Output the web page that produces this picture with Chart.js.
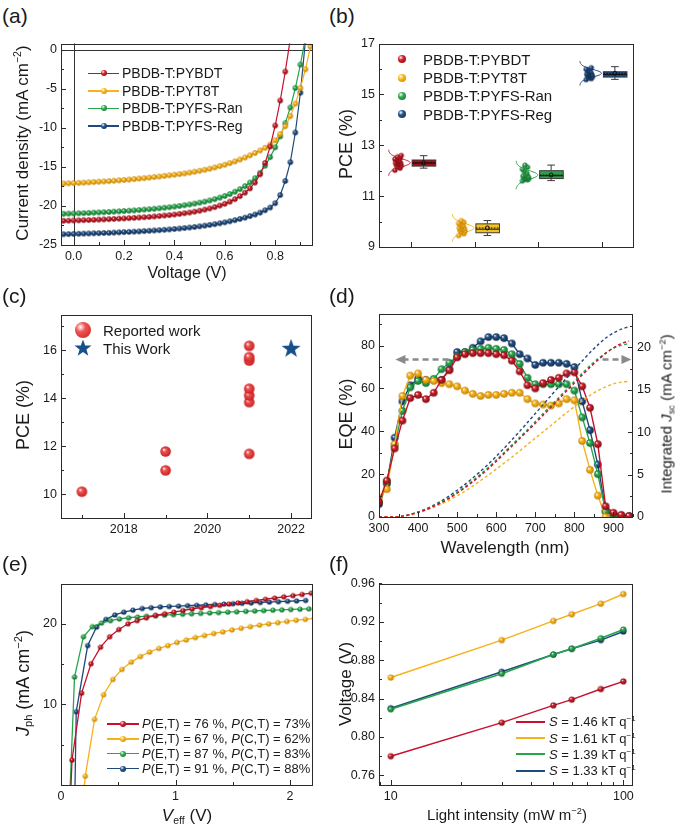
<!DOCTYPE html>
<html>
<head>
<meta charset="utf-8">
<title>PBDB-T devices</title>
<script src="https://cdn.jsdelivr.net/npm/chart.js@4.4.1/dist/chart.umd.min.js"></script>
<style>
body{margin:0;background:#fff}
#fig{position:relative;width:680px;height:827px;overflow:hidden;font-family:"Liberation Sans",Arial,sans-serif;color:#1a1a1a}
#fig canvas{position:absolute}
.tx,.ty{position:absolute;white-space:nowrap;line-height:1}
.tx{transform:translate(-50%,-50%)}
.ty{transform:translate(-50%,-50%) rotate(-90deg)}
.pn{position:absolute;font-size:21px;line-height:1}
.leg{position:absolute;white-space:nowrap;line-height:1}
.leg>div{display:flex;align-items:center}
sup{font-size:.62em;vertical-align:.6em;line-height:0}
sub{font-size:.62em;vertical-align:-.3em;line-height:0}
</style>
</head>
<body>
<div id="fig"></div>
<script>
// ---- (a) J-V ----
const aV=[-0.04,-0.02,0,0.02,0.04,0.06,0.08,0.10,0.12,0.14,0.16,0.18,0.20,0.22,0.24,0.26,0.28,0.30,0.32,0.34,0.36,0.38,0.40,0.42,0.44,0.46,0.48,0.50,0.52,0.54,0.56,0.58,0.60,0.62,0.64,0.66,0.68,0.70,0.72,0.74,0.76,0.78,0.80,0.82,0.84,0.86,0.88,0.90,0.92,0.94];
const aPYBDT=[-21.90,-21.88,-21.86,-21.84,-21.82,-21.80,-21.78,-21.75,-21.72,-21.69,-21.66,-21.63,-21.60,-21.56,-21.52,-21.48,-21.44,-21.40,-21.35,-21.29,-21.23,-21.17,-21.10,-21.02,-20.93,-20.84,-20.73,-20.61,-20.47,-20.32,-20.15,-19.95,-19.72,-19.45,-19.13,-18.75,-18.30,-17.75,-17.0,-15.95,-14.5,-12.4,-9.7,-6.5,-2.8,1.4];
const aPYT8T=[-17.12,-17.10,-17.07,-17.04,-17.01,-16.98,-16.94,-16.90,-16.86,-16.82,-16.77,-16.72,-16.67,-16.62,-16.56,-16.50,-16.44,-16.37,-16.30,-16.23,-16.15,-16.07,-16.0,-15.92,-15.83,-15.73,-15.62,-15.5,-15.37,-15.23,-15.07,-14.9,-14.72,-14.52,-14.3,-14.06,-13.8,-13.52,-13.22,-12.9,-12.55,-12.15,-11.6,-10.8,-9.8,-8.5,-6.9,-4.9,-2.5,0.4];
const aRan=[-21.0,-20.98,-20.96,-20.94,-20.92,-20.89,-20.86,-20.83,-20.8,-20.77,-20.73,-20.69,-20.65,-20.61,-20.57,-20.52,-20.47,-20.42,-20.36,-20.3,-20.23,-20.16,-20.08,-20.0,-19.91,-19.81,-19.7,-19.58,-19.45,-19.3,-19.13,-18.94,-18.72,-18.47,-18.18,-17.85,-17.46,-17.0,-16.45,-15.75,-14.85,-13.75,-12.5,-11.1,-9.4,-7.4,-4.9,-1.9,1.6];
const aReg=[-23.62,-23.6,-23.58,-23.56,-23.54,-23.52,-23.5,-23.48,-23.46,-23.44,-23.41,-23.38,-23.35,-23.32,-23.29,-23.26,-23.22,-23.18,-23.14,-23.1,-23.05,-23.0,-22.95,-22.89,-22.83,-22.76,-22.69,-22.61,-22.52,-22.43,-22.33,-22.22,-22.1,-21.96,-21.82,-21.66,-21.5,-21.3,-21.1,-20.85,-20.55,-20.2,-19.65,-18.6,-16.8,-14.4,-10.6,-5.5,1.2];
const aXTicks=[0,0.2,0.4,0.6,0.8], aYTicks=[-25,-20,-15,-10,-5,0];
const devices=['PBDB-T:PYBDT','PBDB-T:PYT8T','PBDB-T:PYFS-Ran','PBDB-T:PYFS-Reg'];

// ---- (b) PCE statistics ----
const bPYBDT=[12.02,12.1,12.15,12.2,12.24,12.27,12.3,12.32,12.35,12.38,12.42,12.46,12.5,12.55,12.6];
const bPYT8T=[9.45,9.52,9.58,9.62,9.66,9.7,9.73,9.76,9.8,9.84,9.88,9.93,9.98,10.04];
const bRan=[11.6,11.64,11.68,11.7,11.72,11.74,11.77,11.8,11.84,11.9,11.98,12.06,12.14,12.22];
const bReg=[15.58,15.62,15.66,15.7,15.73,15.76,15.78,15.81,15.84,15.88,15.93,15.99,16.05];
// [low whisker, q1, median, q3, high whisker, mean]
const bBoxPYBDT=[12.10,12.18,12.30,12.42,12.59,12.31];
const bBoxPYT8T=[9.45,9.56,9.70,9.91,10.04,9.75];
const bBoxRan=[11.61,11.69,11.80,12.00,12.22,11.83];
const bBoxReg=[15.59,15.68,15.78,15.89,16.09,15.83];
const bSd=[0.16,0.17,0.175,0.15];
const bYTicks=[9,11,13,15,17], bXTicks=[1,2,3,4];

// ---- (c) literature ----
const cYear=[2017,2019,2019,2021,2021,2021,2021,2021,2021,2021];
const cPCE=[10.1,10.99,11.78,11.68,13.84,14.12,14.4,15.58,15.72,16.19];
const cThisYear=[2022], cThisPCE=[16.15];
const cXTicks=[2018,2020,2022], cYTicks=[10,12,14,16];

// ---- (d) EQE / integrated Jsc ----
const dWl=[300,320,340,360,380,400,420,440,460,480,500,520,540,560,580,600,620,640,660,680,700,720,740,760,780,800,820,840,860,880,900,920,940];
const dEqePYBDT=[7,17,32,45,55.5,57,55,58,64,68.5,74.5,76,76.5,76.5,76.5,76,75.5,73,68,61.5,60,62.5,64,65,67,67.5,61,51,34,5,2,1,0.5];
const dEqePYT8T=[9,13,34,56.5,66,67,64,63.5,62.5,62,61,59,57.5,56.5,57,57,57.5,58,58,55,53,52.5,52,53,55,54.5,35.5,22,10,0];
const dEqeRan=[7,16.5,33.5,49.5,60.5,63.5,62.5,64.5,69,72,75,77,78,78.5,79,78.5,78,76,71.5,65,62,62,62,62,62,59,46.5,34.5,20,2.5,1,0.5,0.2];
const dEqeReg=[6,15.5,37,54,61.5,64.6,64,64,64,69,77,77,79,82,84,84,83.5,81,76,74,71,72,72,72,71.5,70,54,40.5,24.5,3,1.2,0.6,0.3];
const dJscPYBDT=[0,0,0,0.1,0.28,0.55,0.85,1.25,1.7,2.2,2.8,3.45,4.15,4.9,5.7,6.55,7.45,8.35,9.25,10.15,11.05,12.0,12.95,13.9,14.85,15.8,16.75,17.65,18.5,19.3,19.95,20.45,20.75];
const dJscPYT8T=[0,0,0,0.08,0.25,0.5,0.8,1.15,1.55,2.0,2.5,3.05,3.65,4.3,4.95,5.65,6.35,7.05,7.8,8.55,9.3,10.05,10.8,11.55,12.3,13.0,13.7,14.35,14.9,15.35,15.7,15.9,16.0];
const dJscRan=[0,0,0,0.1,0.3,0.58,0.9,1.32,1.8,2.32,2.92,3.58,4.3,5.06,5.87,6.72,7.6,8.5,9.4,10.3,11.25,12.2,13.15,14.1,15.05,16.0,16.95,17.85,18.65,19.35,19.9,20.25,20.45];
const dJscReg=[0,0,0,0.1,0.3,0.6,0.95,1.4,1.9,2.5,3.15,3.85,4.6,5.4,6.25,7.15,8.1,9.1,10.1,11.15,12.2,13.25,14.3,15.35,16.4,17.4,18.4,19.4,20.3,21.1,21.7,22.15,22.45];
const dArrowY=73.5, dArrowLeft=[478,342], dArrowRight=[872,946];
const dXTicks=[300,400,500,600,700,800,900], dYTicks=[0,20,40,60,80], dY2Ticks=[0,5,10,15,20];

// ---- (e) Jph vs Veff ----
const eV_PYBDT=[0.085,0.096,0.18,0.262,0.345,0.425,0.505,0.585,0.665,0.745,0.825,0.905,0.985,1.065,1.145,1.225,1.305,1.385,1.465,1.545,1.625,1.705,1.785,1.865,1.945,2.025,2.105,2.185];
const eJ_PYBDT=[-1,3.1,11.4,15.05,17.1,18.4,19.3,20.0,20.4,20.75,21.05,21.25,21.45,21.65,21.85,22.0,22.15,22.3,22.45,22.6,22.75,22.9,23.05,23.2,23.35,23.5,23.65,23.8];
const eV_PYT8T=[0.19,0.212,0.293,0.372,0.453,0.532,0.613,0.693,0.773,0.855,0.933,1.013,1.093,1.173,1.253,1.333,1.413,1.493,1.573,1.653,1.733,1.813,1.893,1.973,2.053,2.133,2.213];
const eJ_PYT8T=[-2,1.1,8.15,11.2,13.1,14.35,15.25,15.95,16.5,16.95,17.3,17.7,18.0,18.3,18.55,18.8,19.0,19.25,19.45,19.65,19.85,20.0,20.15,20.3,20.45,20.55,20.7];
const eV_Ran=[0.075,0.118,0.196,0.274,0.354,0.432,0.51,0.59,0.668,0.746,0.826,0.904,0.982,1.062,1.14,1.22,1.298,1.376,1.456,1.534,1.614,1.692,1.77,1.85,1.928,2.006,2.086,2.164];
const eJ_Ran=[-2,13.4,18.4,19.65,20.1,20.4,20.6,20.75,20.85,20.95,21.02,21.08,21.14,21.2,21.25,21.3,21.35,21.4,21.45,21.5,21.55,21.6,21.65,21.7,21.74,21.78,21.82,21.86];
const eV_Reg=[0.12,0.133,0.233,0.311,0.392,0.47,0.548,0.628,0.709,0.787,0.867,0.945,1.026,1.105,1.185,1.264,1.343,1.422,1.502,1.581,1.66,1.74,1.819,1.898,1.978,2.057,2.136];
const eJ_Reg=[-2,9.1,17.3,19.6,20.55,21.1,21.45,21.7,21.9,22.0,22.1,22.15,22.2,22.25,22.3,22.35,22.4,22.45,22.5,22.55,22.6,22.65,22.7,22.75,22.8,22.85,22.9];
const ePET=[76,67,87,91], ePCT=[73,62,83,88];
const eXTicks=[0,1,2], eYTicks=[10,20];

// ---- (f) Voc vs light intensity ----
const fI=[10,30,50,60,80,100];
const fPYBDT=[0.780,0.815,0.833,0.839,0.850,0.858];
const fPYT8T=[0.862,0.901,0.921,0.928,0.939,0.949];
const fRan=[0.829,0.866,0.886,0.892,0.903,0.912];
const fReg=[0.830,0.868,0.886,0.892,0.901,0.910];
const fSlope=['1.46','1.61','1.39','1.33'];
const fXTicks=[10,100], fYTicks=[0.76,0.80,0.84,0.88,0.92,0.96];

// ---- styling ----
const FONT='"Liberation Sans", Arial, sans-serif', TF=12.5;
const COLS=[['#c8102e','#d8242e','#7a0810'],['#f5b21b','#fbbd22','#c27c00'],['#24a64b','#30b356','#126a2a'],['#1f4a7c','#275892','#0c2646']];
const BOXF=['#a3101a','#f3c21e','#2f9e4a','#17508c'];
const AX=46, AXR=40, AXH=24, PT=10, PR=10;
const fig=document.getElementById('fig');

function ball(r,i,cols){const [_,m,d]=cols||COLS[i];const s=Math.ceil(2*r+2),cv=document.createElement('canvas');cv.width=cv.height=s;
  const g=cv.getContext('2d'),o=s/2,gr=g.createRadialGradient(o-r*.35,o-r*.38,r*.05,o,o,r);
  gr.addColorStop(0,'#ffffff');gr.addColorStop(.32,m);gr.addColorStop(1,d);g.fillStyle=gr;g.beginPath();g.arc(o,o,r,0,Math.PI*2);g.fill();return cv}
function star(R,col){const s=Math.ceil(2*R+2),cv=document.createElement('canvas');cv.width=cv.height=s;const g=cv.getContext('2d'),o=s/2;
  g.fillStyle=col;g.beginPath();for(let k=0;k<10;k++){const rr=k%2?R*.4:R,an=-Math.PI/2+k*Math.PI/5;g.lineTo(o+rr*Math.cos(an),o+2+rr*Math.sin(an))}g.closePath();g.fill();return cv}
const grad=(m,d)=>`radial-gradient(circle at 35% 32%,#fff 0,${m} 32%,${d} 100%)`;

const frame={id:'frame',afterDraw(ch,args,o){const c=ch.ctx,a=ch.chartArea;c.save();c.strokeStyle='#2a2a2a';c.lineWidth=1;
  for(const id in ch.scales){const s=ch.scales[id],st=(o.minor||{})[id],mn=[];
    if(st==='log'){for(let d=1;d<=1000;d*=10)for(let k=2;k<10;k++)mn.push(k*d)}
    else if(st){for(let v=Math.ceil(s.min/st-1e-9)*st;v<=s.max+1e-9;v+=st)mn.push(v)}
    const tk=(v,l)=>{if(v<s.min-1e-9||v>s.max+1e-9)return;const p=Math.round(s.getPixelForValue(v))+0.5;c.beginPath();
      if(s.isHorizontal()){c.moveTo(p,a.bottom);c.lineTo(p,a.bottom-l)}
      else if(s.position==='right'){c.moveTo(a.right,p);c.lineTo(a.right-l,p)}
      else{c.moveTo(a.left,p);c.lineTo(a.left+l,p)}c.stroke()};
    mn.forEach(v=>tk(v,3));s.ticks.forEach(t=>tk(t.value,5))}
  c.strokeRect(Math.round(a.left)+0.5,Math.round(a.top)+0.5,Math.round(a.right-a.left)-1,Math.round(a.bottom-a.top)-1);c.restore()}};

function ax(pos,min,max,ticks,fmt,extra){return Object.assign({position:pos,type:'linear',min,max,
  grid:{display:false,drawTicks:false},border:{display:false},
  ticks:{color:'#1a1a1a',font:{size:TF,family:FONT},padding:4,maxRotation:0,autoSkip:false,callback:fmt||(v=>String(v))},
  afterBuildTicks:s=>{s.ticks=ticks.map(v=>({value:v}))},
  afterFit:s=>{if(pos==='bottom')s.height=AXH;else s.width=pos==='right'?AXR:AX}},extra||{})}
function opts(scales,minor,pr){return{responsive:false,animation:false,events:[],
  layout:{padding:{top:PT,right:pr===undefined?PR:pr,left:0,bottom:0}},
  plugins:{legend:{display:false},tooltip:{enabled:false},frame:{minor}},scales}}
function canvas(b,pr){const [L,T,R,B]=b,c=document.createElement('canvas');c.width=R-L+AX+pr;c.height=B-T+PT+AXH;
  c.style.left=(L-AX)+'px';c.style.top=(T-PT)+'px';fig.appendChild(c);return c}
const xy=(xs,ys)=>ys.map((y,k)=>({x:xs[k],y}));

// (a)
const zero={id:'zero',beforeDatasetsDraw(ch){const c=ch.ctx,x=ch.scales.x,y=ch.scales.y,a=ch.chartArea;c.save();c.strokeStyle='#333';c.lineWidth=1;
  const px=Math.round(x.getPixelForValue(0))+0.5,py=Math.round(y.getPixelForValue(0))+0.5;
  c.beginPath();c.moveTo(px,a.top);c.lineTo(px,a.bottom);c.moveTo(a.left,py);c.lineTo(a.right,py);c.stroke();c.restore()}};
new Chart(canvas([61,42,313,245],PR),{type:'line',
  data:{datasets:[aPYBDT,aPYT8T,aRan,aReg].map((ys,i)=>({data:xy(aV,ys),borderColor:COLS[i][0],borderWidth:1.2,pointStyle:ball(2.7,i),pointRadius:3}))},
  options:opts({x:ax('bottom',-0.05,0.95,aXTicks,v=>v.toFixed(1)),y:ax('left',-25,0.8,aYTicks)},{x:0.1,y:2.5}),plugins:[zero,frame]});

// (b)
const bJit=[-0.05,0.03,-0.01,0.05,-0.03,0.01,0.04,-0.04,0.0,0.02,-0.02];
const bBoxes=[bBoxPYBDT,bBoxPYT8T,bBoxRan,bBoxReg];
const boxPlot={id:'boxPlot',beforeDatasetsDraw(ch){const c=ch.ctx,x=ch.scales.x,y=ch.scales.y;c.save();
  bBoxes.forEach((bx,i)=>{const [lo,q1,md,q3,hi,mean]=bx,X=v=>x.getPixelForValue(i+1+v),Y=v=>y.getPixelForValue(v);
    c.strokeStyle=COLS[i][0];c.lineWidth=1;c.beginPath();
    for(let k=-3.2;k<=3.201;k+=0.1){const px=X(-0.35+0.34*Math.exp(-k*k/2)),py=Y(mean+k*bSd[i]);k<-3.19?c.moveTo(px,py):c.lineTo(px,py)}c.stroke();
    c.strokeStyle='#3a3a3a';c.beginPath();c.moveTo(X(.2),Y(hi));c.lineTo(X(.2),Y(q3));c.moveTo(X(.2),Y(q1));c.lineTo(X(.2),Y(lo));
    c.moveTo(X(.14),Y(hi));c.lineTo(X(.26),Y(hi));c.moveTo(X(.14),Y(lo));c.lineTo(X(.26),Y(lo));c.stroke();
    c.fillStyle=BOXF[i];c.fillRect(X(.02),Y(q3),X(.39)-X(.02),Y(q1)-Y(q3));c.strokeRect(X(.02),Y(q3),X(.39)-X(.02),Y(q1)-Y(q3));
    c.strokeStyle='#111';c.beginPath();c.moveTo(X(.02),Y(md));c.lineTo(X(.39),Y(md));c.stroke();
    c.setLineDash([1.5,1.5]);c.beginPath();c.moveTo(X(.02),Y(mean));c.lineTo(X(.39),Y(mean));c.stroke();c.setLineDash([]);
    c.beginPath();c.arc(X(.2),Y(mean),2,0,Math.PI*2);c.stroke()});
  c.restore()}};
new Chart(canvas([379,42,634,247],PR),{type:'scatter',
  data:{datasets:[bPYBDT,bPYT8T,bRan,bReg].map((ys,i)=>({data:ys.map((v,k)=>({x:i+1-0.2+bJit[k%bJit.length],y:v})),pointStyle:ball(2.6,i),pointRadius:3}))},
  options:opts({x:ax('bottom',0.5,4.5,bXTicks,()=>''),y:ax('left',9,17,bYTicks)},{y:1}),plugins:[boxPlot,frame]});

// (c)
new Chart(canvas([61,313,313,518],PR),{type:'scatter',
  data:{datasets:[{data:xy(cYear,cPCE),pointStyle:ball(5.3,0,['','#f05454','#c81f1f']),pointRadius:5},
                  {data:xy(cThisYear,cThisPCE),pointStyle:star(10,'#174f8a'),pointRadius:10}]},
  options:opts({x:ax('bottom',2016.5,2022.5,cXTicks),y:ax('left',9,17.5,cYTicks)},{x:1,y:1}),plugins:[frame]});

// (d)
const arrows={id:'arrows',afterDatasetsDraw(ch){const c=ch.ctx,x=ch.scales.x,y=ch.scales.y;c.save();c.strokeStyle=c.fillStyle='#8a8a8a';c.lineWidth=2.4;
  [dArrowLeft,dArrowRight].forEach(([from,to])=>{const x0=x.getPixelForValue(from),x1=x.getPixelForValue(to),yy=y.getPixelForValue(dArrowY),dir=Math.sign(x1-x0);
    c.setLineDash([6,4]);c.beginPath();c.moveTo(x0,yy);c.lineTo(x1-dir*8,yy);c.stroke();c.setLineDash([]);
    c.beginPath();c.moveTo(x1,yy);c.lineTo(x1-dir*10,yy-4.5);c.lineTo(x1-dir*10,yy+4.5);c.closePath();c.fill()});c.restore()}};
new Chart(canvas([379,312,633,517],AXR),{type:'line',
  data:{datasets:[
    ...[dJscPYBDT,dJscPYT8T,dJscRan,dJscReg].map((ys,i)=>({data:xy(dWl,ys),yAxisID:'y2',borderColor:COLS[i][0],borderWidth:1.4,borderDash:[3,2.5],pointRadius:0,tension:0.3})),
    ...[dEqePYBDT,dEqePYT8T,dEqeRan,dEqeReg].map((ys,i)=>({data:xy(dWl,ys),yAxisID:'y',borderColor:COLS[i][0],borderWidth:1.4,pointStyle:ball(3.8,i),pointRadius:4}))]},
  options:opts({x:ax('bottom',300,950,dXTicks),y:ax('left',0,95,dYTicks),y2:ax('right',0,24,dY2Ticks)},{x:50,y:10,y2:2.5},0),plugins:[arrows,frame]});

// (e)
new Chart(canvas([61,582,313,785],PR),{type:'line',
  data:{datasets:[[eV_PYBDT,eJ_PYBDT],[eV_PYT8T,eJ_PYT8T],[eV_Ran,eJ_Ran],[eV_Reg,eJ_Reg]].map(([xs,ys],i)=>({data:xy(xs,ys),borderColor:COLS[i][0],borderWidth:1.3,pointStyle:ball(2.6,i),pointRadius:3}))},
  options:opts({x:ax('bottom',0,2.2,eXTicks),y:ax('left',0,25,eYTicks)},{x:0.5,y:5}),plugins:[frame]});

// (f)
new Chart(canvas([379,582,633,785],PR),{type:'line',
  data:{datasets:[fPYBDT,fPYT8T,fRan,fReg].map((ys,i)=>({data:xy(fI,ys),borderColor:COLS[i][0],borderWidth:1.5,pointStyle:ball(3.1,i),pointRadius:3}))},
  options:opts({x:ax('bottom',8.9,110,fXTicks,v=>String(v),{type:'logarithmic'}),y:ax('left',0.75,0.96,fYTicks,v=>v.toFixed(2))},{x:'log',y:0.02}),plugins:[frame]});

// ---- text ----
function put(cls,html,x,y,size){const d=document.createElement('div');d.className=cls;d.innerHTML=html;d.style.left=x+'px';d.style.top=y+'px';if(size)d.style.fontSize=size+'px';fig.appendChild(d);return d}
[['(a)',2,5],['(b)',329,5],['(c)',2,285],['(d)',329,285],['(e)',2,553],['(f)',329,553]].forEach(([t,x,y])=>put('pn',t,x,y));
put('ty','Current density (mA cm<sup>−2</sup>)',22,143,17);
put('tx','Voltage (V)',187,273,16);
put('ty','PCE (%)',346,144,18);
put('ty','PCE (%)',23,415,18);
put('ty','EQE (%)',346,414,18);
put('ty','Integrated <i>J</i><sub>sc</sub> (mA cm<sup>−2</sup>)',666,414,15);
put('tx','Wavelength (nm)',505,547,17);
put('ty','<i>J</i><sub>ph</sub> (mA cm<sup>−2</sup>)',23,683,18);
put('tx','<i>V</i><sub>eff</sub> (V)',187,815,17);
put('ty','Voltage (V)',345,684,17);
put('tx','Light intensity (mW m<sup>−2</sup>)',507,814,15);

function legend(x,y,dy,size,items,mark){const d=put('leg','',x,y,size);
  items.forEach((t,i)=>{const r=document.createElement('div');r.style.height=dy+'px';r.innerHTML=mark(i)+'<span>'+t+'</span>';d.appendChild(r)})}
const lineBall=(w,r,gap)=>i=>`<span style="position:relative;display:inline-block;width:${w}px;height:1.5px;background:${COLS[i][0]};margin-right:${gap}px"><b style="position:absolute;left:${w/2-r}px;top:${0.75-r}px;width:${2*r}px;height:${2*r}px;border-radius:50%;background:${grad(COLS[i][1],COLS[i][2])}"></b></span>`;
legend(88,64.5,17.5,14,devices,lineBall(31,3,3));
legend(398,50,18.4,15,devices,i=>`<span style="display:inline-block;width:8px;height:8px;border-radius:50%;background:${grad(COLS[i][1],COLS[i][2])};margin-right:17px"></span>`);
legend(75,321,18.3,15,['Reported work','This Work'],i=>i===0
  ?`<span style="display:inline-block;width:16px;height:16px;border-radius:50%;background:${grad('#f05454','#c81f1f')};margin-right:12px"></span>`
  :`<svg width="18" height="18" viewBox="0 0 20 20" style="margin:0 11px 0 -1px"><polygon points="10,0.5 12.4,7.2 19.5,7.3 13.8,11.6 15.9,18.5 10,14.4 4.1,18.5 6.2,11.6 0.5,7.3 7.6,7.2" fill="#174f8a"/></svg>`);
legend(107,716.5,14.9,13,ePET.map((p,i)=>`<i>P</i>(E,T) = ${p} %, <i>P</i>(C,T) = ${ePCT[i]}%`),lineBall(32,3,3));
legend(516,713.5,16.4,13,fSlope.map(s=>`<i>S</i> = ${s} kT q<sup>−1</sup>`),i=>`<span style="display:inline-block;width:29px;height:2px;background:${COLS[i][0]};margin-right:4px"></span>`);
</script>
</body>
</html>
